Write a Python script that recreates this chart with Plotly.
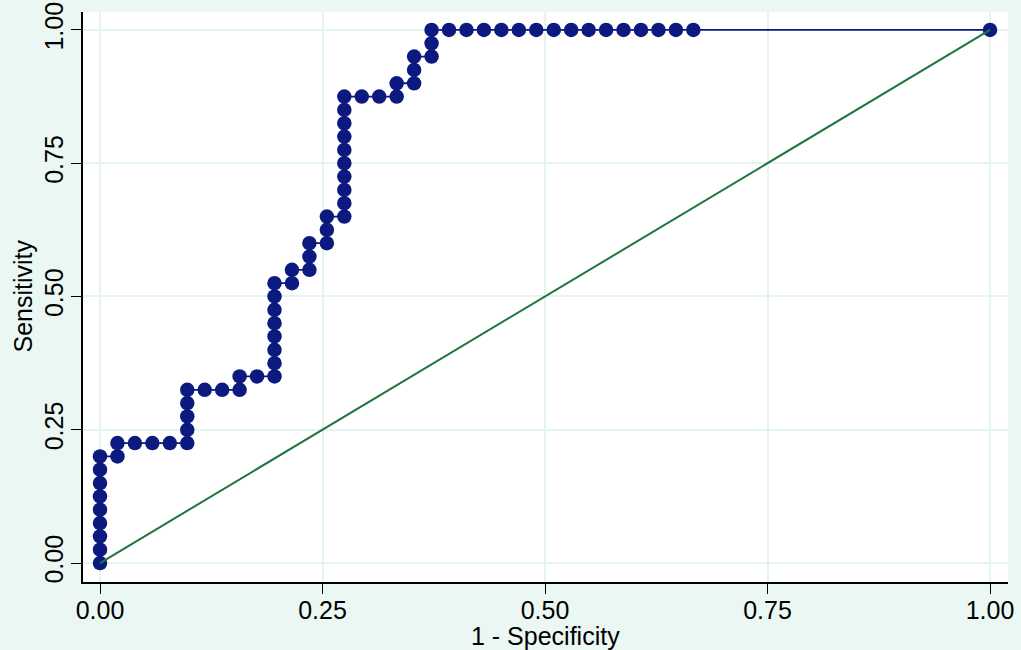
import plotly.graph_objects as go

# Counts of negatives / positives classified positive at each cut-off
n_neg = 51
n_pos = 40
fp_count = [0, 0, 0, 0, 0, 0, 0, 0, 0,
            1, 1,
            2, 3, 4, 5,
            5, 5, 5, 5,
            6, 7, 8,
            8,
            9, 10,
            10, 10, 10, 10, 10, 10, 10,
            11, 11,
            12, 12, 12,
            13, 13, 13,
            14, 14, 14, 14, 14, 14, 14, 14, 14, 14,
            15, 16, 17,
            17,
            18, 18, 18,
            19, 19, 19,
            20, 21, 22, 23, 24, 25, 26, 27, 28, 29, 30, 31, 32, 33, 34,
            51]
tp_count = [0, 1, 2, 3, 4, 5, 6, 7, 8,
            8, 9,
            9, 9, 9, 9,
            10, 11, 12, 13,
            13, 13, 13,
            14,
            14, 14,
            15, 16, 17, 18, 19, 20, 21,
            21, 22,
            22, 23, 24,
            24, 25, 26,
            26, 27, 28, 29, 30, 31, 32, 33, 34, 35,
            35, 35, 35,
            36,
            36, 37, 38,
            38, 39, 40,
            40, 40, 40, 40, 40, 40, 40, 40, 40, 40, 40, 40, 40, 40, 40,
            40]

tick_vals = [0, 0.25, 0.5, 0.75, 1.0]
tick_text = ["0.00", "0.25", "0.50", "0.75", "1.00"]

fpr = [c / n_neg for c in fp_count]
tpr = [c / n_pos for c in tp_count]

NAVY = "#0c1a80"
GREEN = "#1f7440"
BG = "#eaf7f2"
GRID = "#e4f4ee"
FONT = "Liberation Sans, Arial, sans-serif"

fig = go.Figure()

fig.add_trace(go.Scatter(
    x=fpr, y=tpr, mode="lines+markers",
    line=dict(color=NAVY, width=1.8),
    marker=dict(color=NAVY, size=14.5, line=dict(width=0)),
    showlegend=False, cliponaxis=False,
))

# Reference line
fig.add_trace(go.Scatter(
    x=[0, 1], y=[0, 1], mode="lines",
    line=dict(color=GREEN, width=2),
    showlegend=False, cliponaxis=False,
))

fig.update_layout(
    width=1021, height=650,
    margin=dict(l=83, r=13, t=12, b=68),
    paper_bgcolor=BG, plot_bgcolor="white",
    font=dict(family=FONT, color="black"),
)

fig.update_xaxes(
    range=[-0.0191, 1.0202], automargin=False,
    tickvals=tick_vals, ticktext=tick_text,
    ticks="outside", ticklen=10, tickwidth=1.2, tickcolor="black",
    tickfont=dict(size=25), ticklabelstandoff=-5,
    showline=True, linecolor="black", linewidth=1.5,
    showgrid=True, gridcolor=GRID, gridwidth=2,
    zeroline=False,
)
fig.update_yaxes(
    range=[-0.0356, 1.0337], automargin=False,
    tickvals=tick_vals, ticktext=tick_text, tickangle=-90,
    ticks="outside", ticklen=10, tickwidth=1.2, tickcolor="black",
    tickfont=dict(size=25), ticklabelstandoff=-2,
    showline=True, linecolor="black", linewidth=1.5,
    showgrid=True, gridcolor=GRID, gridwidth=2,
    zeroline=False,
)

# Axis titles
fig.add_annotation(
    text="1 - Specificity", x=0.5, xref="x", y=0, yref="paper",
    yanchor="middle", yshift=-54, showarrow=False, font=dict(size=25),
)
fig.add_annotation(
    text="Sensitivity", x=0, xref="paper", y=0.5, yref="y",
    xanchor="center", xshift=-60, textangle=-90, showarrow=False,
    font=dict(size=25),
)

fig.write_html("out.html")
